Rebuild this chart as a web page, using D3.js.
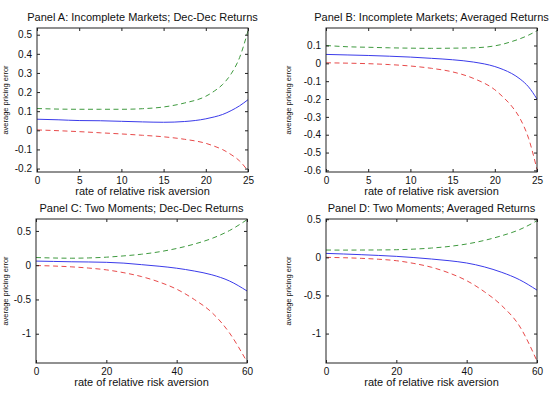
<!DOCTYPE html>
<html>
<head>
<meta charset="utf-8">
<script src="https://cdn.jsdelivr.net/npm/d3@7"></script>
<style>
  body { margin: 0; background: #fff; }
  svg { display: block; font-family: "Liberation Sans", Arial, sans-serif; }
</style>
</head>
<body>
<div id="chart"></div>
<script>
// ---- data ----
const titles = [
  "Panel A: Incomplete Markets; Dec-Dec Returns",
  "Panel B: Incomplete Markets; Averaged Returns",
  "Panel C: Two Moments; Dec-Dec Returns",
  "Panel D: Two Moments; Averaged Returns"
];

const xTop = [0, 2.5, 5, 7.5, 10, 12.5, 15, 17.5, 20, 21, 22, 23, 24, 25];
const xBottom = [0, 5, 10, 15, 20, 25, 30, 35, 40, 45, 50, 55, 60];

const aBlue  = [0.058, 0.055, 0.051, 0.050, 0.047, 0.044, 0.042, 0.046, 0.060, 0.070, 0.083, 0.103, 0.128, 0.160];
const aGreen = [0.114, 0.111, 0.110, 0.110, 0.110, 0.113, 0.122, 0.143, 0.178, 0.205, 0.240, 0.295, 0.380, 0.520];
const aRed   = [0.002, -0.002, -0.007, -0.013, -0.019, -0.026, -0.034, -0.047, -0.068, -0.083, -0.101, -0.127, -0.160, -0.212];

const bBlue  = [0.050, 0.047, 0.044, 0.040, 0.035, 0.028, 0.020, 0.007, -0.018, -0.035, -0.057, -0.088, -0.132, -0.200];
const bGreen = [0.100, 0.093, 0.090, 0.087, 0.085, 0.084, 0.085, 0.087, 0.098, 0.108, 0.122, 0.138, 0.158, 0.183];
const bRed   = [0.003, 0.001, -0.002, -0.007, -0.015, -0.028, -0.048, -0.085, -0.148, -0.190, -0.240, -0.310, -0.420, -0.595];

const cBlue  = [0.060, 0.055, 0.050, 0.047, 0.042, 0.030, 0.008, -0.015, -0.044, -0.085, -0.140, -0.230, -0.376];
const cGreen = [0.112, 0.105, 0.102, 0.106, 0.117, 0.136, 0.160, 0.195, 0.244, 0.308, 0.390, 0.505, 0.664];
const cRed   = [-0.005, -0.012, -0.024, -0.042, -0.068, -0.110, -0.166, -0.245, -0.350, -0.500, -0.690, -0.987, -1.410];

const dBlue  = [0.052, 0.044, 0.035, 0.025, 0.013, -0.003, -0.022, -0.044, -0.074, -0.125, -0.197, -0.293, -0.430];
const dGreen = [0.096, 0.095, 0.096, 0.097, 0.100, 0.108, 0.122, 0.143, 0.175, 0.222, 0.284, 0.363, 0.480];
const dRed   = [0.000, -0.005, -0.013, -0.025, -0.044, -0.080, -0.130, -0.205, -0.306, -0.450, -0.634, -0.900, -1.360];

const xTicksTop = [0, 5, 10, 15, 20, 25];
const xTicksBottom = [0, 20, 40, 60];
const yTicksA = [0.5, 0.4, 0.3, 0.2, 0.1, 0, -0.1, -0.2];
const yTicksB = [0.1, 0, -0.1, -0.2, -0.3, -0.4, -0.5, -0.6];
const yTicksCD = [0.5, 0, -0.5, -1];

const yDomains = [[-0.218, 0.535], [-0.609, 0.198], [-1.427, 0.674], [-1.386, 0.503]];

const width = 549, height = 412;

const svg = d3.select("#chart").append("svg")
    .attr("width", width)
    .attr("height", height);

const panels = [
  { title: titles[0], x: xTop, series: [aBlue, aGreen, aRed], xt: xTicksTop, xd: [0, 25], yt: yTicksA, yd: yDomains[0], left: 37, top: 28, labelX: 8 },
  { title: titles[1], x: xTop, series: [bBlue, bGreen, bRed], xt: xTicksTop, xd: [0, 25], yt: yTicksB, yd: yDomains[1], left: 326, top: 28, labelX: 291 },
  { title: titles[2], x: xBottom, series: [cBlue, cGreen, cRed], xt: xTicksBottom, xd: [0, 60], yt: yTicksCD, yd: yDomains[2], left: 36, top: 219, labelX: 8 },
  { title: titles[3], x: xBottom, series: [dBlue, dGreen, dRed], xt: xTicksBottom, xd: [0, 60], yt: yTicksCD, yd: yDomains[3], left: 326, top: 219, labelX: 291 }
];

const pw = 211, ph = 144;
const colors = ["#3b3bea", "#3f9a3f", "#e84a4a"];
const dashes = [null, "5,3.5", "5,3.5"];
const fmt = d => d3.format("")(d).replace("−", "-");

panels.forEach(p => {
  const g = svg.append("g").attr("transform", `translate(${p.left},${p.top})`);
  const x = d3.scaleLinear().domain(p.xd).range([0, pw]);
  const y = d3.scaleLinear().domain(p.yd).range([ph, 0]);

  // lines
  p.series.forEach((s, i) => {
    const line = d3.line()
        .x((d, k) => x(p.x[k]))
        .y(d => y(d))
        .curve(d3.curveMonotoneX);
    g.append("path")
        .datum(s)
        .attr("fill", "none")
        .attr("stroke", colors[i])
        .attr("stroke-width", 1)
        .attr("stroke-dasharray", dashes[i])
        .attr("d", line);
  });

  // axes with inward ticks, MATLAB style
  const styleAxis = a => a.call(a => a.select(".domain").remove())
      .call(a => a.selectAll("text").attr("fill", "#111").style("font-size", "10px"))
      .call(a => a.selectAll(".tick line").attr("stroke", "#222"));

  g.append("g")
      .attr("transform", `translate(0,${ph})`)
      .call(d3.axisBottom(x).tickValues(p.xt).tickFormat(fmt).tickSizeInner(-3).tickSizeOuter(0).tickPadding(5))
      .call(styleAxis);
  g.append("g")
      .call(d3.axisTop(x).tickValues(p.xt).tickFormat("").tickSizeInner(-3).tickSizeOuter(0))
      .call(styleAxis);
  g.append("g")
      .call(d3.axisLeft(y).tickValues(p.yt).tickFormat(fmt).tickSizeInner(-3).tickSizeOuter(0).tickPadding(5))
      .call(styleAxis);
  g.append("g")
      .attr("transform", `translate(${pw},0)`)
      .call(d3.axisRight(y).tickValues(p.yt).tickFormat("").tickSizeInner(-3).tickSizeOuter(0))
      .call(styleAxis);

  g.append("rect")
      .attr("width", pw)
      .attr("height", ph)
      .attr("fill", "none")
      .attr("stroke", "#222")
      .attr("stroke-width", 1);

  g.append("text")
      .attr("x", pw / 2)
      .attr("y", -7)
      .attr("text-anchor", "middle")
      .style("font-size", "11px")
      .attr("fill", "#111")
      .text(p.title);

  g.append("text")
      .attr("x", pw / 2)
      .attr("y", ph + 23)
      .attr("text-anchor", "middle")
      .style("font-size", "11px")
      .attr("fill", "#111")
      .text("rate of relative risk aversion");

  g.append("text")
      .attr("transform", `translate(${p.labelX - p.left},${ph / 2}) rotate(-90)`)
      .attr("text-anchor", "middle")
      .style("font-size", "7.5px")
      .attr("fill", "#111")
      .text("average pricing error");
});
</script>
</body>
</html>
